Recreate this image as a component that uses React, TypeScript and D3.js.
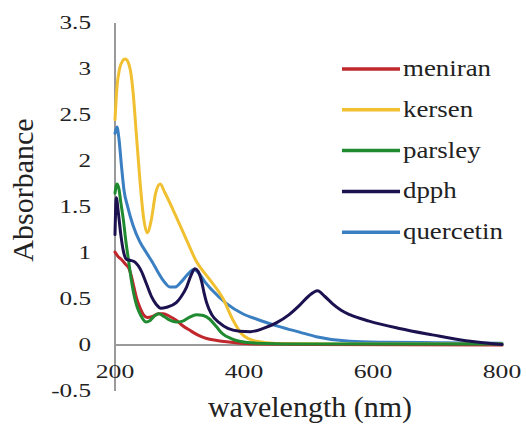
import React, { useEffect, useRef } from "react";
import * as d3 from "d3";

type Pt = [number, number];

const meniran: Pt[] = [[200,1.01],[205,0.96],[210,0.93],[216,0.88],[221,0.84],[225,0.76],[229,0.64],[233,0.52],[239,0.4],[244,0.33],[250,0.3],[258,0.31],[267,0.34],[275,0.34],[285,0.31],[295,0.27],[305,0.21],[316,0.16],[328,0.11],[342,0.07],[358,0.05],[373,0.035],[393,0.02],[420,0.01],[500,0.005],[800,0.0]];
const kersen: Pt[] = [[200,2.45],[203,2.8],[207,3.0],[212,3.09],[216,3.11],[220,3.08],[224,2.98],[228,2.75],[233,2.3],[239,1.76],[244,1.4],[250,1.22],[256,1.35],[263,1.65],[270,1.75],[277,1.66],[290,1.47],[311,1.14],[326,0.91],[347,0.71],[367,0.51],[383,0.27],[398,0.11],[419,0.04],[450,0.015],[550,0.01],[800,0.01]];
const parsley: Pt[] = [[200,1.65],[203,1.75],[206,1.7],[209,1.55],[213,1.36],[217,1.12],[221,0.92],[225,0.72],[229,0.56],[234,0.42],[240,0.32],[248,0.25],[255,0.27],[262,0.32],[268,0.34],[276,0.31],[285,0.27],[295,0.25],[305,0.26],[315,0.3],[326,0.33],[337,0.32],[347,0.28],[357,0.2],[367,0.12],[380,0.07],[393,0.04],[420,0.02],[500,0.01],[800,0.01]];
const dpph: Pt[] = [[200,1.2],[202,1.6],[205,1.45],[209,1.2],[213,1.02],[218,0.93],[224,0.92],[231,0.9],[241,0.8],[249,0.66],[257,0.52],[264,0.44],[271,0.4],[280,0.41],[295,0.46],[303,0.53],[311,0.63],[318,0.76],[324,0.83],[329,0.8],[334,0.7],[338,0.57],[342,0.46],[350,0.33],[362,0.24],[375,0.18],[393,0.15],[410,0.145],[430,0.18],[450,0.24],[470,0.33],[486,0.43],[500,0.53],[514,0.59],[525,0.53],[537,0.45],[550,0.38],[564,0.33],[594,0.26],[641,0.18],[692,0.11],[744,0.045],[800,0.005]];
const quercetin: Pt[] = [[200,2.3],[203,2.37],[206,2.25],[210,1.95],[214,1.68],[219,1.52],[228,1.3],[238,1.13],[249,1.0],[258,0.9],[266,0.8],[275,0.7],[285,0.63],[293,0.63],[302,0.68],[313,0.77],[322,0.82],[330,0.78],[340,0.68],[350,0.6],[373,0.45],[398,0.34],[420,0.28],[455,0.2],[486,0.14],[512,0.09],[564,0.04],[620,0.03],[700,0.025],[800,0.02]];

const seriesNames = ["meniran", "kersen", "parsley", "dpph", "quercetin"];
const seriesData = [meniran, kersen, parsley, dpph, quercetin];
const seriesColors = ["#c0282d", "#f0c030", "#1f8a30", "#1c1250", "#3a7fc1"];
const drawOrder = [4, 1, 0, 2, 3];

const yTicks = [-0.5, 0, 0.5, 1, 1.5, 2, 2.5, 3, 3.5];
const xTicks = [200, 400, 600, 800];
const xTitle = "wavelength (nm)";
const yTitle = "Absorbance";

export default function App() {
  const ref = useRef<SVGSVGElement | null>(null);
  useEffect(() => {
    const svg = d3.select(ref.current);
    svg.selectAll("*").remove();
    const x = d3.scaleLinear().domain([200, 800]).range([115, 502]);
    const y = d3.scaleLinear().domain([0, 3.5]).range([345, 23]);
    const line = d3
      .line<Pt>()
      .x((d) => x(d[0]))
      .y((d) => y(d[1]))
      .curve(d3.curveMonotoneX);
    const axisColor = "#9a9a9a";
    const F = "Liberation Serif";

    svg.append("rect").attr("width", 526).attr("height", 425).attr("fill", "#fff");
    svg.append("line").attr("x1", x(200)).attr("x2", x(200)).attr("y1", y(3.5)).attr("y2", y(-0.5))
      .attr("stroke", axisColor).attr("stroke-width", 2);
    svg.append("line").attr("x1", x(200)).attr("x2", x(800)).attr("y1", y(0)).attr("y2", y(0))
      .attr("stroke", axisColor).attr("stroke-width", 2);

    yTicks.forEach((t) => {
      svg.append("g").attr("transform", `translate(91,${y(t) + 6})`)
        .append("text").attr("text-anchor", "end").attr("font-size", 18).attr("fill", "#222")
        .attr("font-family", F).attr("transform", "scale(1.4,1)").text(String(t));
    });
    xTicks.forEach((t) => {
      svg.append("g").attr("transform", `translate(${x(t)},378)`)
        .append("text").attr("text-anchor", "middle").attr("font-size", 19).attr("fill", "#222")
        .attr("font-family", F).attr("transform", "scale(1.35,1)").text(String(t));
    });
    svg.append("text").attr("x", 310).attr("y", 417).attr("text-anchor", "middle")
      .attr("font-size", 30).attr("fill", "#222").attr("font-family", F).text(xTitle);
    svg.append("text").attr("transform", "translate(33,190) rotate(-90)").attr("text-anchor", "middle")
      .attr("font-size", 30).attr("fill", "#222").attr("font-family", F).text(yTitle);

    drawOrder.forEach((i) => {
      svg.append("path").attr("d", line(seriesData[i]) || "").attr("fill", "none")
        .attr("stroke", seriesColors[i]).attr("stroke-width", 3)
        .attr("stroke-linejoin", "round").attr("stroke-linecap", "round");
    });

    seriesNames.forEach((n, i) => {
      const g = svg.append("g").attr("transform", `translate(342,${69 + i * 40.8})`);
      g.append("line").attr("x1", 0).attr("x2", 58).attr("y1", 0).attr("y2", 0)
        .attr("stroke", seriesColors[i]).attr("stroke-width", 3.5);
      g.append("g").attr("transform", "translate(61,7)")
        .append("text").attr("font-size", 24).attr("fill", "#222").attr("font-family", F)
        .attr("transform", "scale(1.12,1)").text(n);
    });
  }, []);
  return (
    <svg ref={ref} width={526} height={425} style={{ position: "absolute", left: 0, top: 0 }} />
  );
}
